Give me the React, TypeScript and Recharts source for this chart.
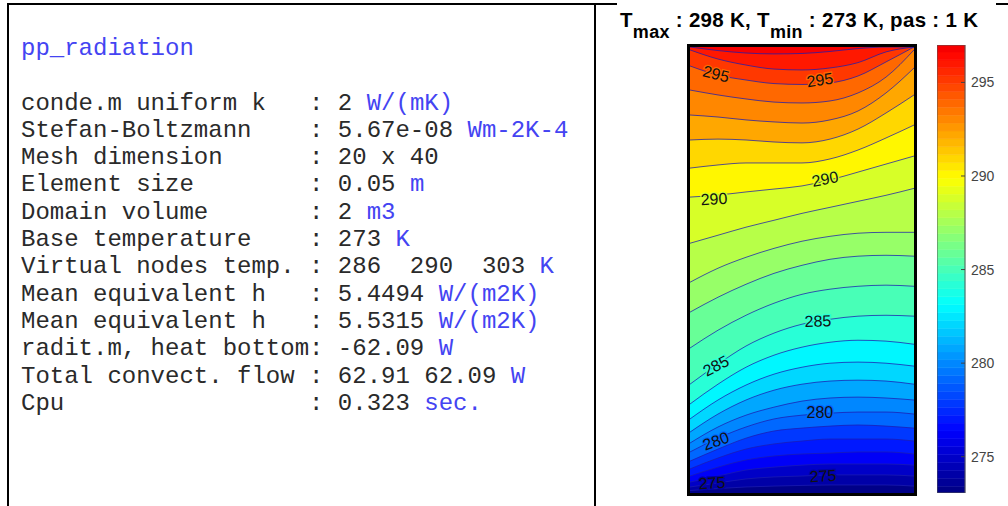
import React from 'react';
import { ComposedChart, Area, Line, Scatter, XAxis, YAxis, ReferenceArea } from 'recharts';

const MONO = '"Courier New", "Liberation Mono", monospace';
const SANS = 'Arial, "Liberation Sans", Helvetica, sans-serif';
const UNIT_BLUE = '#4444f2';

// run summary printed by the solver
const runName = 'pp_radiation';
const specNames = [
  'conde.m uniform k',
  'Stefan-Boltzmann',
  'Mesh dimension',
  'Element size',
  'Domain volume',
  'Base temperature',
  'Virtual nodes temp.',
  'Mean equivalent h',
  'Mean equivalent h',
  'radit.m, heat bottom',
  'Total convect. flow',
  'Cpu',
];
const specValues = [
  '2',
  '5.67e-08',
  '20 x 40',
  '0.05',
  '2',
  '273',
  '286  290  303',
  '5.4494',
  '5.5315',
  '-62.09',
  '62.91 62.09',
  '0.323',
];
const specUnits = ['W/(mK)', 'Wm-2K-4', '', 'm', 'm3', 'K', 'K', 'W/(m2K)', 'W/(m2K)', 'W', 'W', 'sec.'];

// title values
const tMax = 298;
const tMin = 273;
const tStep = 1;

// abscissae (m) where each isotherm is sampled across the 1 m wide domain
const xs = [0, 0.125, 0.25, 0.375, 0.5, 0.625, 0.75, 0.875, 1];

// isotherm levels (K)
const levels = [274, 275, 276, 277, 278, 279, 280, 281, 282, 283, 284, 285, 286, 287, 288, 289, 290, 291, 292, 293, 294, 295, 296, 297];

// height (m) of each isotherm at xs, same order as levels
const isotherms = [
  [0.011, 0.020, 0.027, 0.031, 0.034, 0.036, 0.036, 0.036, 0.031],
  [0.027, 0.045, 0.063, 0.072, 0.076, 0.081, 0.081, 0.081, 0.076],
  [0.049, 0.076, 0.103, 0.116, 0.125, 0.130, 0.130, 0.130, 0.125],
  [0.076, 0.116, 0.148, 0.166, 0.175, 0.179, 0.184, 0.184, 0.175],
  [0.108, 0.157, 0.197, 0.220, 0.233, 0.242, 0.242, 0.242, 0.233],
  [0.143, 0.197, 0.246, 0.278, 0.291, 0.300, 0.305, 0.300, 0.291],
  [0.184, 0.246, 0.296, 0.332, 0.349, 0.358, 0.363, 0.363, 0.354],
  [0.224, 0.296, 0.349, 0.385, 0.412, 0.426, 0.430, 0.426, 0.417],
  [0.273, 0.354, 0.417, 0.461, 0.488, 0.502, 0.506, 0.502, 0.488],
  [0.332, 0.417, 0.484, 0.533, 0.564, 0.582, 0.587, 0.582, 0.569],
  [0.399, 0.488, 0.564, 0.618, 0.654, 0.676, 0.685, 0.681, 0.667],
  [0.488, 0.578, 0.659, 0.717, 0.757, 0.779, 0.793, 0.797, 0.793],
  [0.650, 0.730, 0.797, 0.851, 0.891, 0.914, 0.927, 0.932, 0.927],
  [0.811, 0.878, 0.936, 0.985, 1.021, 1.048, 1.062, 1.066, 1.062],
  [0.945, 1.008, 1.057, 1.097, 1.129, 1.151, 1.165, 1.169, 1.169],
  [1.120, 1.156, 1.192, 1.223, 1.254, 1.281, 1.308, 1.335, 1.366],
  [1.327, 1.336, 1.350, 1.363, 1.377, 1.404, 1.439, 1.475, 1.511],
  [1.457, 1.471, 1.480, 1.480, 1.480, 1.498, 1.538, 1.592, 1.650],
  [1.583, 1.587, 1.583, 1.574, 1.570, 1.587, 1.632, 1.704, 1.785],
  [1.695, 1.686, 1.673, 1.664, 1.659, 1.673, 1.713, 1.794, 1.906],
  [1.807, 1.785, 1.767, 1.753, 1.749, 1.758, 1.794, 1.865, 1.987],
  [1.915, 1.874, 1.852, 1.836, 1.832, 1.839, 1.870, 1.933, 2.000],
  [1.987, 1.946, 1.919, 1.901, 1.897, 1.906, 1.930, 1.978, 2.000],
  [2.000, 1.984, 1.973, 1.969, 1.971, 1.980, 1.993, 2.000, 2.000],
];

// inline contour labels: level, position (m) and text angle (deg)
const labelLevels = [295, 295, 290, 290, 285, 285, 280, 280, 275, 275];
const labelXs = [0.116, 0.58, 0.603, 0.107, 0.571, 0.116, 0.58, 0.116, 0.594, 0.098];
const labelYs = [1.879, 1.852, 1.408, 1.318, 0.771, 0.57, 0.359, 0.233, 0.076, 0.045];
const labelAngles = [14, -8, -11, -3, -2, -28, 0, -20, -3, -3];

// colour bar
const barTicks = [275, 280, 285, 290, 295];
const BAR_MIN = 273.06;
const BAR_MAX = 297.0;

// jet colormap, 64 entries over the colour axis
const CMIN = 273;
const CMAX = 300;
const NCOL = 64;
const jet = (t: number) => {
  const ch = (k: number) => Math.round(255 * Math.min(1, Math.max(0, 1.5 - Math.abs(4 * t - k))));
  return `rgb(${ch(3)},${ch(2)},${ch(1)})`;
};
const levelColor = (T: number) => {
  const idx = Math.min(NCOL - 1, Math.max(0, Math.floor(((T - CMIN) / (CMAX - CMIN)) * NCOL)));
  return jet((idx + 0.5) / NCOL);
};

const fieldRows = xs.map((x, i) => {
  const row: Record<string, number | number[]> = { x, base: [0, 2] };
  levels.forEach((T, k) => {
    row[`iso${T}`] = isotherms[k][i];
    row[`band${T}`] = [isotherms[k][i], 2];
  });
  return row;
});

const labelRows = labelLevels.map((level, i) => ({
  x: labelXs[i],
  y: labelYs[i],
  level,
  angle: labelAngles[i],
}));

const barBands = Array.from({ length: NCOL }, (_, i) => {
  const step = (CMAX - CMIN) / NCOL;
  return {
    lo: Math.max(BAR_MIN, CMIN + i * step),
    hi: Math.min(BAR_MAX, CMIN + (i + 1) * step),
    color: jet((i + 0.5) / NCOL),
  };
}).filter((b) => b.hi > b.lo);

// clabel-style text: a halo in the local band colour hides the isotherm under the digits
const ContourLabel = (props: any) => {
  const { cx, cy, payload } = props;
  return (
    <text
      x={cx}
      y={cy}
      transform={`rotate(${payload.angle} ${cx} ${cy})`}
      textAnchor="middle"
      dominantBaseline="central"
      fontSize={16}
      fontFamily={SANS}
      fill="#111"
      stroke={levelColor(payload.level - 1)}
      strokeWidth={2.5}
      paintOrder="stroke"
    >
      {payload.level}
    </text>
  );
};

const BarTick = (props: any) => {
  const { x, y, payload } = props;
  return (
    <g>
      <line x1={x - 10} x2={x - 6} y1={y} y2={y} stroke="#444" strokeWidth={1} />
      <text x={x} y={y} dy={5} fontSize={14} fontFamily={SANS} fill="#444">
        {payload.value}
      </text>
    </g>
  );
};

const rule = (left: number, top: number, width: number, height: number) => (
  <div style={{ position: 'absolute', left, top, width, height, background: '#000' }} />
);

const sub: React.CSSProperties = { fontSize: 18, position: 'relative', top: 11 };

export default function App() {
  return (
    <div style={{ position: 'absolute', left: 0, top: 0, width: 1008, height: 506, background: '#fff', overflow: 'hidden' }}>
      {rule(7, 3, 610, 2)}
      {rule(996, 3, 12, 2)}
      {rule(7, 3, 2, 503)}
      {rule(594, 3, 2, 503)}

      {/* solver report */}
      <div
        style={{
          position: 'absolute',
          left: 21,
          top: 35,
          fontFamily: MONO,
          fontSize: 24,
          lineHeight: '27.3px',
          whiteSpace: 'pre',
          color: '#2a2a2a',
        }}
      >
        <div style={{ color: UNIT_BLUE }}>{runName}</div>
        <div> </div>
        {specNames.map((name, i) => (
          <div key={i}>
            {name.padEnd(20)}: {specValues[i]}
            {specUnits[i] ? ' ' : ''}
            <span style={{ color: UNIT_BLUE }}>{specUnits[i]}</span>
          </div>
        ))}
      </div>

      {/* title */}
      <div
        style={{
          position: 'absolute',
          left: 620,
          top: 8.5,
          fontFamily: SANS,
          fontWeight: 'bold',
          fontSize: 20.5,
          lineHeight: '22px',
          letterSpacing: 0.3,
          whiteSpace: 'pre',
          color: '#000',
        }}
      >
        T<span style={sub}>max</span>
        {` : ${tMax} K, T`}
        <span style={sub}>min</span>
        {` : ${tMin} K, pas : ${tStep} K`}
      </div>

      {/* temperature field */}
      <div style={{ position: 'absolute', left: 690, top: 47 }}>
        <ComposedChart width={224} height={446} data={fieldRows} margin={{ top: 0, right: 0, bottom: 0, left: 0 }}>
          <XAxis dataKey="x" type="number" domain={[0, 1]} hide allowDataOverflow />
          <YAxis type="number" domain={[0, 2]} hide allowDataOverflow />
          <Area
            dataKey="base"
            type="linear"
            fill={levelColor(273)}
            fillOpacity={1}
            stroke="none"
            isAnimationActive={false}
            activeDot={false}
          />
          {levels.map((T) => (
            <Area
              key={`band${T}`}
              dataKey={`band${T}`}
              type="monotoneX"
              fill={levelColor(T)}
              fillOpacity={1}
              stroke="none"
              isAnimationActive={false}
              activeDot={false}
            />
          ))}
          {levels.map((T) => (
            <Line
              key={`iso${T}`}
              dataKey={`iso${T}`}
              type="monotoneX"
              stroke="#1c1cb0"
              strokeOpacity={0.75}
              strokeWidth={1}
              dot={false}
              activeDot={false}
              isAnimationActive={false}
            />
          ))}
          <Scatter data={labelRows} dataKey="y" shape={ContourLabel} isAnimationActive={false} />
        </ComposedChart>
      </div>
      <div
        style={{
          position: 'absolute',
          left: 687,
          top: 44,
          width: 230,
          height: 452,
          boxSizing: 'border-box',
          border: '3px solid #000',
        }}
      />

      {/* colour bar */}
      <div style={{ position: 'absolute', left: 937, top: 45 }}>
        <ComposedChart width={70} height={448} data={[{ x: 0 }, { x: 1 }]} margin={{ top: 0, right: 0, bottom: 0, left: 0 }}>
          <XAxis dataKey="x" type="number" domain={[0, 1]} hide />
          <YAxis
            orientation="right"
            type="number"
            domain={[BAR_MIN, BAR_MAX]}
            ticks={barTicks}
            interval={0}
            width={42}
            axisLine={false}
            tickLine={false}
            tickSize={0}
            tickMargin={6}
            tick={<BarTick />}
            allowDataOverflow
          />
          {barBands.map((b, i) => (
            <ReferenceArea
              key={i}
              x1={0}
              x2={1}
              y1={b.lo}
              y2={b.hi}
              fill={b.color}
              fillOpacity={1}
              stroke={b.color}
              strokeWidth={0.5}
            />
          ))}
          <ReferenceArea x1={0} x2={1} y1={BAR_MIN} y2={BAR_MAX} fill="none" stroke="#555" strokeWidth={1} />
        </ComposedChart>
      </div>
    </div>
  );
}
